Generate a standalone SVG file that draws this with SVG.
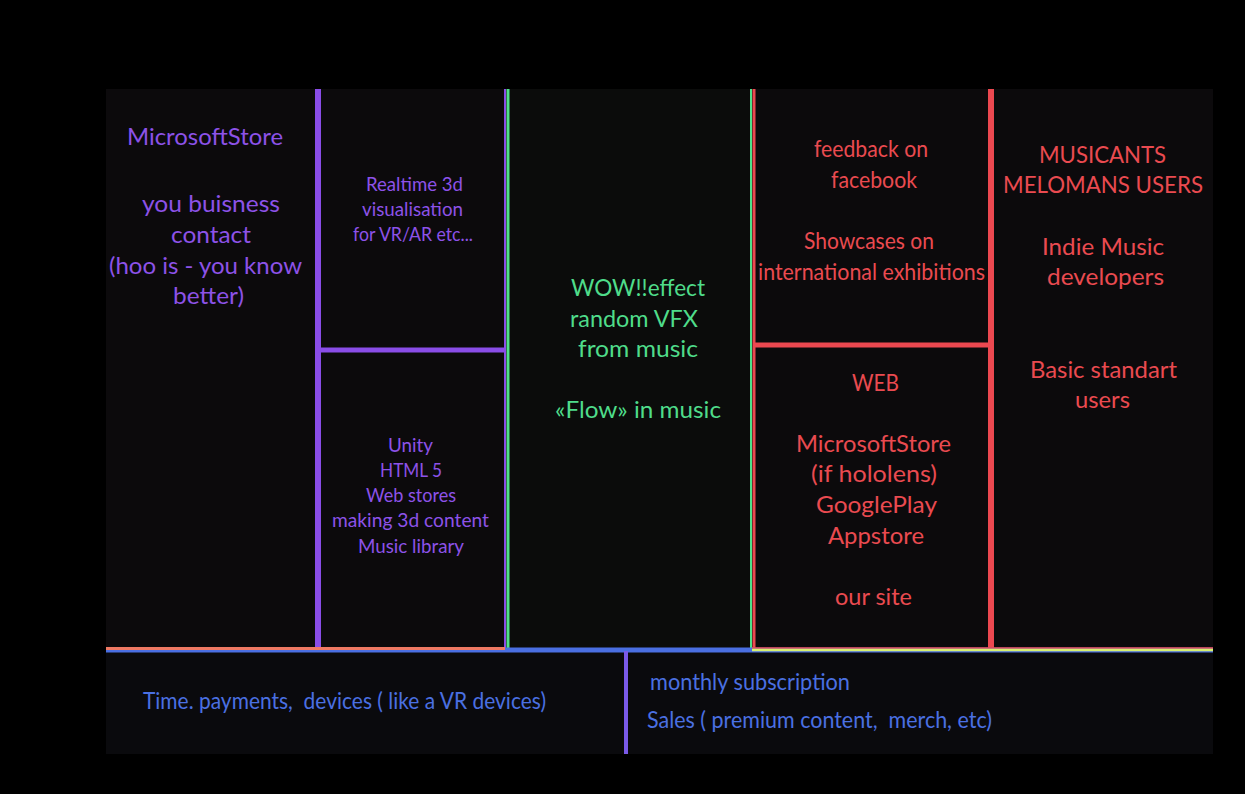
<svg xmlns="http://www.w3.org/2000/svg" width="1245" height="794" viewBox="0 0 1245 794">
<style>
text{font-family:Lato,"Open Sans",sans-serif;text-anchor:middle}
.p{fill:#8d52e8}.g{fill:#4fdc8a}.r{fill:#ea4a50}.b{fill:#4a70e2;text-anchor:start;white-space:pre}
.big{font-size:23.5px}.sm{font-size:19px}
</style>
<rect width="1245" height="794" fill="#000"/>
<rect x="106" y="89" width="1107" height="665" fill="#0c0a0c"/>
<rect x="507" y="89" width="245" height="560" fill="#0b0c0b"/>
<rect x="106" y="651" width="1107" height="103" fill="#0a0a0d"/>
<g id="connectors" fill="none">
<line x1="318" y1="89" x2="318" y2="648" stroke="#8a4de8" stroke-width="6"/>
<line x1="318" y1="350" x2="505" y2="350" stroke="#8a4de8" stroke-width="5"/>
<line x1="505" y1="89" x2="505" y2="648" stroke="#8a4de8" stroke-width="2"/>
<line x1="508" y1="89" x2="508" y2="648" stroke="#4fe08a" stroke-width="3"/>
<line x1="751" y1="89" x2="751" y2="648" stroke="#4fe08a" stroke-width="2"/>
<line x1="754" y1="89" x2="754" y2="648" stroke="#ec4850" stroke-width="3"/>
<line x1="754" y1="345" x2="992" y2="345" stroke="#ec4850" stroke-width="5"/>
<line x1="991" y1="89" x2="991" y2="648" stroke="#ec4850" stroke-width="6"/>
<line x1="106" y1="650" x2="1213" y2="650" stroke="#4a6fe2" stroke-width="5"/>
<line x1="106" y1="648.5" x2="505" y2="648.5" stroke="#f07a64" stroke-width="3"/>
<line x1="752" y1="648" x2="1213" y2="648" stroke="#ec4850" stroke-width="1.5"/>
<line x1="752" y1="650" x2="1213" y2="650" stroke="#d8f070" stroke-width="2.5"/>
<line x1="626" y1="651" x2="626" y2="754" stroke="#7a5ae8" stroke-width="4"/>
</g>
<g id="partners">
<text class="p big" x="205" y="145" textLength="156" lengthAdjust="spacingAndGlyphs">MicrosoftStore</text>
<text class="p big" x="211" y="212" textLength="138" lengthAdjust="spacingAndGlyphs">you buisness</text>
<text class="p big" x="211" y="243" textLength="80" lengthAdjust="spacingAndGlyphs">contact</text>
<text class="p big" x="205.5" y="274" textLength="193" lengthAdjust="spacingAndGlyphs">(hoo is - you know</text>
<text class="p big" x="208.5" y="304" textLength="71" lengthAdjust="spacingAndGlyphs">better)</text>
</g>
<g id="activities">
<text class="p sm" x="414.5" y="191" textLength="97" lengthAdjust="spacingAndGlyphs">Realtime 3d</text>
<text class="p sm" x="412.5" y="216" textLength="101" lengthAdjust="spacingAndGlyphs">visualisation</text>
<text class="p sm" x="413" y="241" textLength="120" lengthAdjust="spacingAndGlyphs">for VR/AR etc...</text>
</g>
<g id="resources">
<text class="p sm" x="410.5" y="452" textLength="45" lengthAdjust="spacingAndGlyphs">Unity</text>
<text class="p sm" x="411" y="477" textLength="62" lengthAdjust="spacingAndGlyphs">HTML 5</text>
<text class="p sm" x="411" y="502" textLength="90" lengthAdjust="spacingAndGlyphs">Web stores</text>
<text class="p sm" x="410.5" y="527" textLength="157" lengthAdjust="spacingAndGlyphs">making 3d content</text>
<text class="p sm" x="411" y="553" textLength="106" lengthAdjust="spacingAndGlyphs">Music library</text>
</g>
<g id="value">
<text class="g big" x="638" y="296" textLength="134" lengthAdjust="spacingAndGlyphs">WOW!!effect</text>
<text class="g big" x="634" y="327" textLength="128" lengthAdjust="spacingAndGlyphs">random VFX</text>
<text class="g big" x="638" y="357" textLength="120" lengthAdjust="spacingAndGlyphs">from music</text>
<text class="g big" x="638" y="418" textLength="166" lengthAdjust="spacingAndGlyphs">«Flow» in music</text>
</g>
<g id="relationships">
<text class="r big" x="871" y="157" textLength="114" lengthAdjust="spacingAndGlyphs">feedback on</text>
<text class="r big" x="874" y="188" textLength="86" lengthAdjust="spacingAndGlyphs">facebook</text>
<text class="r big" x="869" y="249" textLength="130" lengthAdjust="spacingAndGlyphs">Showcases on</text>
<text class="r big" x="871.5" y="280" textLength="227" lengthAdjust="spacingAndGlyphs">international exhibitions</text>
</g>
<g id="channels">
<text class="r big" x="875.5" y="391" textLength="47" lengthAdjust="spacingAndGlyphs">WEB</text>
<text class="r big" x="873.5" y="452" textLength="155" lengthAdjust="spacingAndGlyphs">MicrosoftStore</text>
<text class="r big" x="874" y="482" textLength="126" lengthAdjust="spacingAndGlyphs">(if hololens)</text>
<text class="r big" x="876.5" y="513" textLength="121" lengthAdjust="spacingAndGlyphs">GooglePlay</text>
<text class="r big" x="876" y="544" textLength="96" lengthAdjust="spacingAndGlyphs">Appstore</text>
<text class="r big" x="873.5" y="605" textLength="77" lengthAdjust="spacingAndGlyphs">our site</text>
</g>
<g id="segments">
<text class="r big" x="1102.5" y="163" textLength="127" lengthAdjust="spacingAndGlyphs">MUSICANTS</text>
<text class="r big" x="1103" y="193" textLength="200" lengthAdjust="spacingAndGlyphs">MELOMANS USERS</text>
<text class="r big" x="1103" y="255" textLength="122" lengthAdjust="spacingAndGlyphs">Indie Music</text>
<text class="r big" x="1105.5" y="285" textLength="117" lengthAdjust="spacingAndGlyphs">developers</text>
<text class="r big" x="1103.5" y="378" textLength="147" lengthAdjust="spacingAndGlyphs">Basic standart</text>
<text class="r big" x="1102.5" y="408" textLength="55" lengthAdjust="spacingAndGlyphs">users</text>
</g>
<g id="costs">
<text class="b big" x="143" y="709" textLength="403" lengthAdjust="spacingAndGlyphs">Time. payments,  devices ( like a VR devices)</text>
</g>
<g id="revenue">
<text class="b big" x="650" y="690" textLength="200" lengthAdjust="spacingAndGlyphs">monthly subscription</text>
<text class="b big" x="647" y="728" textLength="345" lengthAdjust="spacingAndGlyphs">Sales ( premium content,  merch, etc)</text>
</g>
</svg>
